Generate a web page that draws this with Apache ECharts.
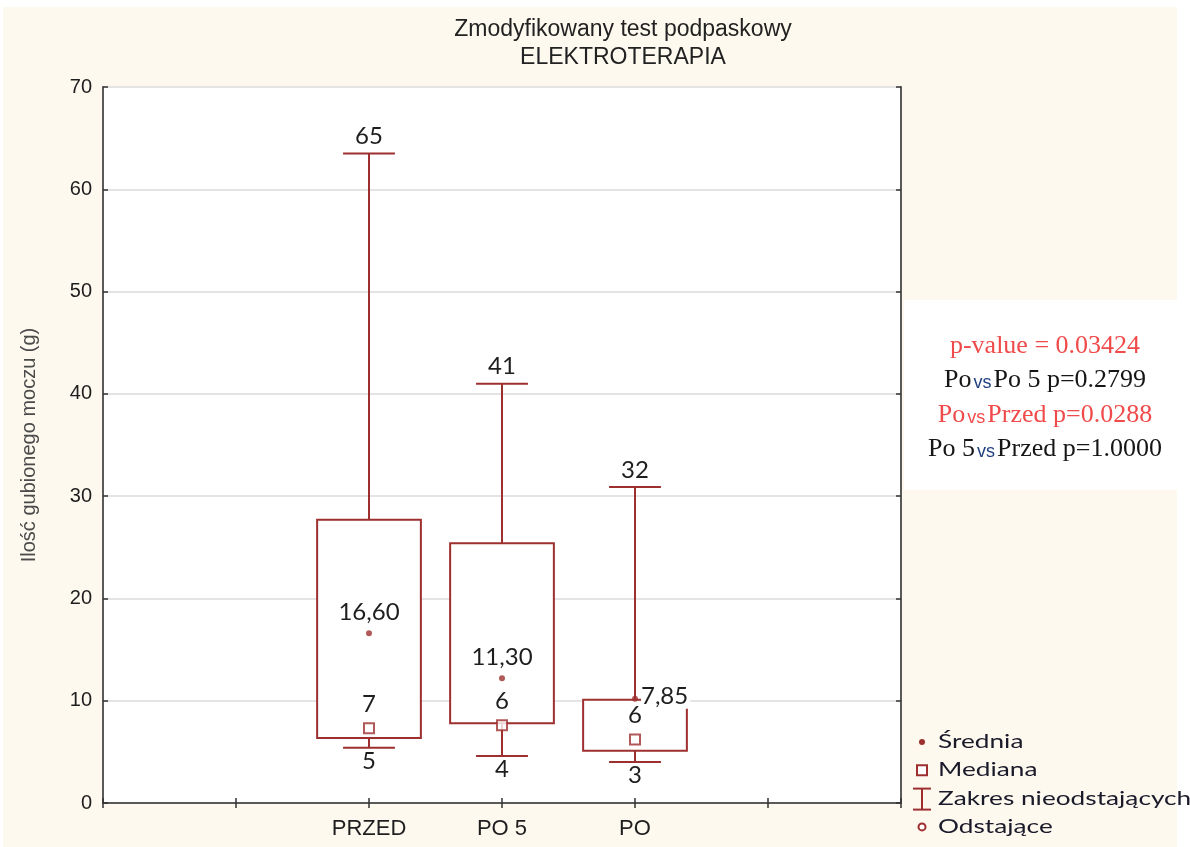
<!DOCTYPE html>
<html><head><meta charset="utf-8">
<script src="https://cdn.jsdelivr.net/npm/echarts@6/dist/echarts.min.js"></script>
<style>html,body{margin:0;padding:0;background:#fff}#c{width:1190px;height:847px}</style>
</head><body><div id="c"></div>
<script>
// ---- data ----
const axisCategories = ['', '', 'PRZED', 'PO 5', 'PO', '', ''];
const groups = ['PRZED', 'PO 5', 'PO'];
const whiskerLow = [5.4, 4.6, 4.0];
const boxLow = [6.35, 7.8, 5.1];
const boxHigh = [27.7, 25.4, 10.1];
const whiskerHigh = [63.5, 41.0, 30.9];
const means = [16.6, 12.2, 10.2];
const medians = [7.3, 7.6, 6.2];
const maxLabels = ['65', '41', '32'];
const meanLabels = ['16,60', '11,30', '7,85'];
const medianLabels = ['7', '6', '6'];
const minLabels = ['5', '4', '3'];
const yMin = 0, yMax = 70, yStep = 10;
const titleLines = ['Zmodyfikowany test podpaskowy', 'ELEKTROTERAPIA'];
const yAxisTitle = 'Ilość gubionego moczu (g)';
const pValueLines = [
  { a: 'p-value = 0.03424', red: true },
  { a: 'Po', vs: 'vs', b: 'Po 5 p=0.2799', red: false },
  { a: 'Po', vs: 'vs', b: 'Przed p=0.0288', red: true },
  { a: 'Po 5', vs: 'vs', b: 'Przed p=1.0000', red: false }
];
const legendLabels = ['Średnia', 'Mediana', 'Zakres nieodstających', 'Odstające'];

// ---- style ----
const RED = '#9e2f2f';
const LABEL_FONT = '24px Lato, "Open Sans", sans-serif';
const AXIS_FONT = 'Liberation Sans, Arial, sans-serif';

const chart = echarts.init(document.getElementById('c'), null, { renderer: 'canvas' });

function renderBox(params, api) {
  const i = params.dataIndex;
  const idx = api.value(0);
  const cx = api.coord([idx, 0])[0];
  const yLo = api.coord([idx, api.value(1)])[1];
  const yQ1 = api.coord([idx, api.value(2)])[1];
  const yQ3 = api.coord([idx, api.value(3)])[1];
  const yHi = api.coord([idx, api.value(4)])[1];
  const yMean = api.coord([idx, means[i]])[1];
  const yMed = api.coord([idx, medians[i]])[1];
  const band = api.size([1, 0])[0];
  const bw = band * 0.78, cw = band * 0.39;
  const ls = { stroke: RED, lineWidth: 2 };
  const txt = (x, y, t, extra) => ({
    type: 'text', x: x, y: y, z2: 20,
    style: Object.assign({ text: t, font: LABEL_FONT, fill: '#1e1e1e', align: 'center', verticalAlign: 'middle' }, extra || {})
  });
  const children = [
    { type: 'line', shape: { x1: cx, y1: yHi, x2: cx, y2: yQ3 }, style: ls },
    { type: 'line', shape: { x1: cx - cw / 2, y1: yHi, x2: cx + cw / 2, y2: yHi }, style: ls },
    { type: 'line', shape: { x1: cx, y1: yQ1, x2: cx, y2: yLo }, style: ls },
    { type: 'line', shape: { x1: cx - cw / 2, y1: yLo, x2: cx + cw / 2, y2: yLo }, style: ls },
    { type: 'rect', shape: { x: cx - bw / 2, y: yQ3, width: bw, height: yQ1 - yQ3 }, style: { fill: '#fff', stroke: RED, lineWidth: 2 } },
    txt(cx, yHi - 17, maxLabels[i]),
    txt(cx, yMed - 24, medianLabels[i]),
    txt(cx, yLo + 13, minLabels[i])
  ];
  if (yQ1 - yQ3 < 60) {
    children.push(txt(cx + 6, yMean - 2, meanLabels[i], { align: 'left', backgroundColor: '#fff', padding: [0, 2, 0, 0] }));
  } else {
    children.push(txt(cx, yMean - 21, meanLabels[i]));
  }
  return { type: 'group', children: children };
}

const boxData = groups.map((g, i) => [axisCategories.indexOf(g), whiskerLow[i], boxLow[i], boxHigh[i], whiskerHigh[i]]);

// legend graphic
const LX = 922, LT = 742, LG = 28.3;
const legendEls = [
  { type: 'circle', shape: { cx: LX, cy: LT, r: 3 }, style: { fill: RED }, z: 50 },
  { type: 'rect', shape: { x: LX - 5, y: LT + LG - 5, width: 10, height: 10 }, style: { fill: '#fff', stroke: RED, lineWidth: 2 }, z: 50 },
  { type: 'polyline', shape: { points: [[LX - 9, LT + 2 * LG - 10], [LX + 9, LT + 2 * LG - 10]] }, style: { stroke: RED, lineWidth: 2 }, z: 50 },
  { type: 'polyline', shape: { points: [[LX, LT + 2 * LG - 10], [LX, LT + 2 * LG + 11]] }, style: { stroke: RED, lineWidth: 2 }, z: 50 },
  { type: 'polyline', shape: { points: [[LX - 9, LT + 2 * LG + 11], [LX + 9, LT + 2 * LG + 11]] }, style: { stroke: RED, lineWidth: 2 }, z: 50 },
  { type: 'circle', shape: { cx: LX, cy: LT + 3 * LG, r: 3.5 }, style: { fill: '#fff', stroke: RED, lineWidth: 2 }, z: 50 }
];
legendLabels.forEach((t, k) => legendEls.push({
  type: 'text', x: 938, y: LT + k * LG, scaleX: 1.38, z: 50,
  style: { text: t, font: '19px Lato, sans-serif', fill: '#1a1a2a', align: 'left', verticalAlign: 'middle' }
}));

// p-value box graphic
const pvEls = [];
const PVX = 1045, PVT = 346, PVG = 34.5;
pValueLines.forEach((ln, k) => {
  const col = ln.red ? '#f04a4a' : '#161616';
  let rich = { m: { font: '26px "Liberation Serif", "Times New Roman", serif', fill: col },
               v: { font: '18px "Liberation Sans", Arial, sans-serif', fill: ln.red ? '#f04a4a' : '#1f3f7f', padding: [6, 2, 0, 2] } };
  let text = ln.vs ? '{m|' + ln.a + '}{v|' + ln.vs + '}{m|' + ln.b + '}' : '{m|' + ln.a + '}';
  pvEls.push({ type: 'text', x: PVX, y: PVT + k * PVG, z: 50,
    style: { text: text, rich: rich, align: 'center', verticalAlign: 'middle' } });
});

const TITLE_FONT = '23px "Liberation Sans", Arial, sans-serif';
const option = {
  backgroundColor: '#ffffff',
  animation: false,
  graphic: { elements: [
    { type: 'rect', shape: { x: 3, y: 7, width: 1174, height: 840 }, style: { fill: '#fdf9ef' }, z: -100, silent: true },
    { type: 'rect', shape: { x: 904, y: 300, width: 286, height: 190 }, style: { fill: '#ffffff' }, z: 40, silent: true },
    { type: 'text', x: 623, y: 30, z: 50, style: { text: titleLines[0], font: TITLE_FONT, fill: '#222', align: 'center', verticalAlign: 'middle' } },
    { type: 'text', x: 623, y: 58, z: 50, style: { text: titleLines[1], font: TITLE_FONT, fill: '#222', align: 'center', verticalAlign: 'middle' } }
  ].concat(legendEls).concat(pvEls) },
  grid: { left: 103, right: 289, top: 87, bottom: 44, show: true, backgroundColor: '#ffffff', borderWidth: 0 },
  xAxis: [
    { type: 'category', data: axisCategories, boundaryGap: false, position: 'bottom',
      axisLine: { lineStyle: { color: '#5a5a5a', width: 2 } },
      axisTick: { inside: true, length: 5, interval: 0, lineStyle: { color: '#333', width: 1.5 } },
      axisLabel: { interval: 0, margin: 15, fontFamily: AXIS_FONT, fontSize: 22, color: '#1e1e1e' },
      splitLine: { show: false } },
    { type: 'category', data: axisCategories, boundaryGap: false, position: 'top',
      axisLine: { lineStyle: { color: '#5a5a5a', width: 2 } },
      axisTick: { inside: true, length: 5, interval: 0, lineStyle: { color: '#333', width: 1.5 } },
      axisLabel: { show: false }, splitLine: { show: false } }
  ],
  yAxis: [
    { type: 'value', min: yMin, max: yMax, interval: yStep, position: 'left',
      name: yAxisTitle, nameLocation: 'middle', nameGap: 64,
      nameTextStyle: { fontFamily: AXIS_FONT, fontSize: 20, color: '#4a4a4a' },
      axisLine: { show: true, lineStyle: { color: '#5a5a5a', width: 2 } },
      axisTick: { show: true, inside: true, length: 5, lineStyle: { color: '#333', width: 1.5 } },
      axisLabel: { margin: 11, fontFamily: AXIS_FONT, fontSize: 20, color: '#1e1e1e' },
      splitLine: { show: true, lineStyle: { color: '#e4e4e4', width: 2 } } },
    { type: 'value', min: yMin, max: yMax, interval: yStep, position: 'right',
      axisLine: { show: true, lineStyle: { color: '#5a5a5a', width: 2 } },
      axisTick: { show: true, inside: true, length: 5, lineStyle: { color: '#333', width: 1.5 } },
      axisLabel: { show: false }, splitLine: { show: false } }
  ],
  series: [
    { name: 'Zakres nieodstających', type: 'custom', renderItem: renderBox, data: boxData,
      encode: { x: 0, y: [1, 2, 3, 4] }, z: 3 },
    { name: 'Średnia', type: 'scatter', symbol: 'circle', symbolSize: 6, z: 5,
      itemStyle: { color: RED }, data: groups.map((g, i) => [g, means[i]]) },
    { name: 'Mediana', type: 'scatter', symbol: 'rect', symbolSize: 10, z: 5,
      itemStyle: { color: '#fff', borderColor: RED, borderWidth: 2 }, data: groups.map((g, i) => [g, medians[i]]) },
    { name: 'Odstające', type: 'scatter', symbol: 'emptyCircle', symbolSize: 7, itemStyle: { color: RED }, data: [] }
  ]
};
chart.setOption(option);
</script>
</body></html>
